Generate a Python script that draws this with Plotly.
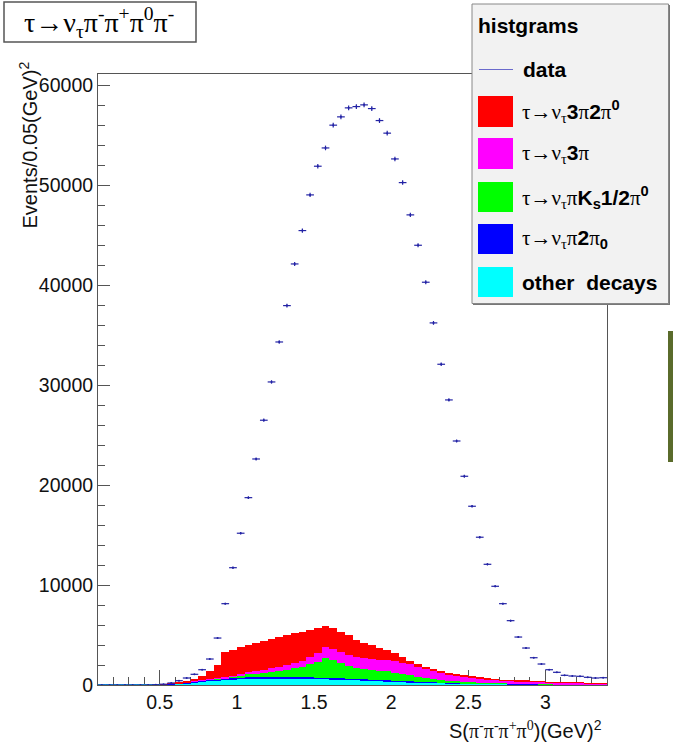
import numpy as np
import plotly.graph_objects as go

# ---------------- data ----------------
bin_width = 0.05
bin_centers = np.round(0.125 + bin_width * np.arange(66), 3)

data_counts = [0, 0, 0, 0, 0, 5, 10, 30, 80, 200,
               430, 700, 1070, 1530, 2600, 4700, 8140, 11740, 15190, 18750,
               22620, 26500, 30330, 34330, 37970, 42140, 45480, 49050, 51920, 53750,
               56030, 56860, 57760, 57890, 58060, 57690, 56490, 55230, 52650, 50280,
               47050, 44010, 40310, 36240, 32100, 28530, 24420, 20890, 17890, 14790,
               12080, 9880, 8140, 6440, 4800, 3700, 2730, 2100, 1530, 1270,
               970, 900, 870, 770, 700, 730]

other_decays = [0, 0, 0, 0, 0, 10, 20, 30, 50, 80,
                130, 180, 250, 330, 400, 460, 520, 570, 610, 640,
                660, 670, 680, 680, 680, 670, 660, 640, 620, 600,
                580, 560, 530, 500, 470, 440, 410, 380, 350, 320,
                290, 260, 240, 220, 200, 180, 160, 150, 140, 130,
                120, 110, 100, 95, 90, 85, 80, 75, 70, 65,
                60, 55, 50, 45, 40, 35]

pi_2pi0 = [0, 0, 0, 0, 0, 0, 0, 0, 10, 20,
           40, 60, 80, 100, 110, 120, 130, 140, 140, 140,
           140, 140, 140, 140, 140, 140, 140, 130, 130, 130,
           120, 120, 110, 110, 100, 100, 90, 90, 80, 80,
           70, 60, 60, 50, 50, 40, 40, 30, 30, 30,
           20, 20, 20, 20, 20, 20, 20, 20, 10, 10,
           10, 10, 10, 10, 10, 10]

pi_Ks_pi0 = [0, 0, 0, 0, 0, 0, 0, 0, 0, 0,
             0, 0, 0, 0, 0, 20, 50, 100, 200, 280,
             350, 420, 500, 580, 700, 850, 1050, 1300, 1600, 2000,
             1800, 1500, 1250, 1100, 1050, 1000, 950, 900, 800, 700,
             600, 500, 420, 350, 280, 220, 170, 130, 100, 80,
             60, 50, 40, 30, 25, 20, 15, 12, 10, 8,
             6, 5, 4, 3, 2, 2]

three_pi = [0, 0, 0, 0, 0, 0, 0, 0, 0, 0,
            10, 20, 30, 40, 60, 80, 100, 130, 160, 200,
            250, 300, 350, 400, 450, 520, 600, 700, 850, 1100,
            1150, 1150, 1100, 1100, 1100, 1100, 1100, 1150, 1200, 1150,
            1100, 1000, 900, 800, 720, 650, 580, 520, 450, 400,
            350, 320, 290, 270, 250, 240, 230, 210, 200, 180,
            160, 160, 140, 120, 120, 90]

three_pi_2pi0 = [0, 0, 0, 0, 0, 0, 0, 0, 10, 20,
                 90, 140, 270, 430, 830, 1320, 2540, 2560, 2660, 2740,
                 2840, 2840, 2900, 2970, 3000, 2990, 2890, 2770, 2500, 2110,
                 2020, 2010, 2010, 1690, 1520, 1360, 1120, 980, 810, 590,
                 340, 280, 210, 180, 150, 140, 150, 140, 110, 90,
                 80, 70, 50, 50, 35, 40, 30, 20, 10, 10,
                 10, 5, 5, 5, 5, 5]

x_ticks = [0.5, 1, 1.5, 2, 2.5, 3]
x_ticklabels = ["0.5", "1", "1.5", "2", "2.5", "3"]
y_ticks = [0, 10000, 20000, 30000, 40000, 50000, 60000]
y_ticklabels = ["0", "10000", "20000", "30000", "40000", "50000", "60000"]

# ---------------- figure ----------------
W, H = 673, 743
L, R, T, B = 98, 66, 74, 58
PW, PH = W - L - R, H - T - B


def px(x):
    return (x - L) / PW


def py(y):
    return (H - B - y) / PH


SANS = "Liberation Sans, Arial, Helvetica, sans-serif"
SERIF = "Liberation Serif, Times New Roman, serif"

fig = go.Figure()

stack = [
    (other_decays, "#00ffff", "other decays"),
    (pi_2pi0, "#0000ff", "tau->nu pi 2pi0"),
    (pi_Ks_pi0, "#00ff00", "tau->nu pi Ks 1/2pi0"),
    (three_pi, "#ff00ff", "tau->nu 3pi"),
    (three_pi_2pi0, "#ff0000", "tau->nu 3pi 2pi0"),
]
for vals, col, name in stack:
    fig.add_trace(go.Bar(
        x=bin_centers, y=vals, width=bin_width, name=name,
        marker=dict(color=col, line=dict(width=0)),
        showlegend=False, hoverinfo="skip"))

data_col = "rgb(35,35,165)"
fig.add_trace(go.Scatter(
    x=bin_centers, y=data_counts, mode="markers", name="data",
    marker=dict(size=2, color=data_col),
    error_x=dict(type="constant", value=bin_width / 2, width=0,
                 thickness=1.2, color=data_col),
    error_y=dict(type="sqrt", width=0, thickness=1.2, color=data_col),
    showlegend=False))

axis_col = "#555555"
fig.update_layout(
    width=W, height=H, autosize=False,
    margin=dict(l=L, r=R, t=T, b=B, pad=0, autoexpand=False),
    paper_bgcolor="white", plot_bgcolor="white",
    barmode="stack", bargap=0,
    font=dict(family=SANS, size=19.5, color="#111111"),
    xaxis=dict(range=[0.1, 3.4], tickvals=x_ticks, ticktext=x_ticklabels,
               ticks="inside", ticklen=15, tickwidth=1, tickcolor=axis_col,
               showline=True, linecolor=axis_col, linewidth=1, mirror=True,
               showgrid=False, zeroline=False, layer="below traces",
               automargin=False,
               tickfont=dict(size=19.5, family=SANS, color="#111111"),
               minor=dict(dtick=0.1, tick0=0.0, ticks="inside", ticklen=8,
                          tickcolor=axis_col, showgrid=False)),
    yaxis=dict(range=[0, 61150], tickvals=y_ticks, ticktext=y_ticklabels,
               ticks="inside", ticklen=12, tickwidth=1, tickcolor=axis_col,
               showline=True, linecolor=axis_col, linewidth=1, mirror=True,
               showgrid=False, zeroline=True, zerolinecolor="#00e5ff",
               zerolinewidth=2, layer="below traces",
               automargin=False,
               tickfont=dict(size=19.5, family=SANS, color="#111111"),
               minor=dict(dtick=2000, tick0=0, ticks="inside", ticklen=7,
                          tickcolor=axis_col, showgrid=False)),
)

shapes = []
annotations = []

# title box
shapes.append(dict(type="rect", xref="paper", yref="paper",
                   x0=px(4), x1=px(196), y0=py(42), y1=py(2),
                   fillcolor="white", line=dict(color="#555555", width=1.5),
                   layer="above"))
annotations.append(dict(
    xref="paper", yref="paper", x=px(99), y=py(22), xanchor="center",
    yanchor="middle", showarrow=False,
    text="τ→ν<sub>τ</sub>π<sup>-</sup>π<sup>+</sup>π<sup>0</sup>π<sup>-</sup>",
    font=dict(family=SERIF, size=28, color="#000000")))

# legend box
shapes.append(dict(type="rect", xref="paper", yref="paper",
                   x0=px(473), x1=px(670), y0=py(305), y1=py(5),
                   fillcolor="#777777", line=dict(width=0), layer="above"))
shapes.append(dict(type="rect", xref="paper", yref="paper",
                   x0=px(472), x1=px(668.5), y0=py(303.5), y1=py(4),
                   fillcolor="#f2f2f2", line=dict(color="#888888", width=1),
                   layer="above"))
annotations.append(dict(
    xref="paper", yref="paper", x=px(476), y=py(26), xanchor="left",
    yanchor="middle", showarrow=False, text="<b>histgrams</b>",
    font=dict(family=SANS, size=21, color="#000000")))

# data entry
shapes.append(dict(type="line", xref="paper", yref="paper",
                   x0=px(479), x1=px(513), y0=py(69.5), y1=py(69.5),
                   line=dict(color="#6a6acc", width=1.2), layer="above"))
annotations.append(dict(
    xref="paper", yref="paper", x=px(521), y=py(70), xanchor="left",
    yanchor="middle", showarrow=False, text="<b>data</b>",
    font=dict(family=SANS, size=21, color="#000000")))

g = lambda s: '<span style="font-family:Liberation Serif">' + s + '</span>'
legend_rows = [
    ("#ff0000", 96, 127,
     g("τ→ν<sub>τ</sub>") + "<b>3</b>" + g("π") + "<b>2</b>" + g("π") + "<sup><b>0</b></sup>"),
    ("#ff00ff", 138, 169,
     g("τ→ν<sub>τ</sub>") + "<b>3</b>" + g("π")),
    ("#00ff00", 182, 212,
     g("τ→ν<sub>τ</sub>π") + "<b>K<sub>s</sub>1/2</b>" + g("π") + "<sup><b>0</b></sup>"),
    ("#0000ff", 224, 254,
     g("τ→ν<sub>τ</sub>π") + "<b>2</b>" + g("π") + "<sub><b>0</b></sub>"),
    ("#00ffff", 267, 297, "<b>other\u00a0 decays</b>"),
]
for col, ytop, ybot, txt in legend_rows:
    shapes.append(dict(type="rect", xref="paper", yref="paper",
                       x0=px(478), x1=px(513), y0=py(ybot), y1=py(ytop),
                       fillcolor=col, line=dict(width=0), layer="above"))
    annotations.append(dict(
        xref="paper", yref="paper", x=px(520), y=py((ytop + ybot) / 2),
        xanchor="left", yanchor="middle", showarrow=False, text=txt,
        font=dict(family=SANS, size=21, color="#000000")))

# stray olive bar at right edge
shapes.append(dict(type="rect", xref="paper", yref="paper",
                   x0=px(668), x1=px(673), y0=py(462), y1=py(331),
                   fillcolor="#5a6b2b", line=dict(width=0), layer="above"))

# axis titles
annotations.append(dict(
    xref="paper", yref="paper", x=px(28), y=py(60), xanchor="center",
    yanchor="top", showarrow=False, textangle=-90,
    text="Events/0.05(GeV)<sup>2</sup>",
    font=dict(family=SANS, size=20, color="#111111")))
annotations.append(dict(
    xref="paper", yref="paper", x=px(604), y=py(729), xanchor="right",
    yanchor="middle", showarrow=False,
    text="S(" + g("π<sup>-</sup>π<sup>-</sup>π<sup>+</sup>π<sup>0</sup>") + ")(GeV)<sup>2</sup>",
    font=dict(family=SANS, size=20, color="#111111")))

fig.update_layout(shapes=shapes, annotations=annotations)
fig.write_html("out.html",
               config={"displayModeBar": False},
               post_script="document.body.style.margin='0';"
                           "document.body.style.padding='0';"
                           "document.body.style.overflow='hidden';")
